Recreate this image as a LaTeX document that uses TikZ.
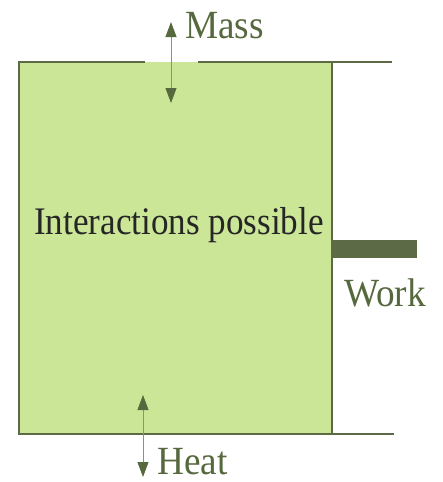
\documentclass[tikz,border=0pt]{standalone}
\usepackage{fontspec}
\setmainfont{Liberation Serif}
\usetikzlibrary{arrows.meta}
\definecolor{sysfill}{HTML}{CBE697}
\definecolor{wallcol}{HTML}{5C6B45}
\definecolor{labelcol}{HTML}{56683D}
\definecolor{flowline}{HTML}{8A9478}
\begin{document}
\begin{tikzpicture}[x=1pt,y=-1pt,
  wall/.style={draw=wallcol,line width=2pt},
  flow/.style={draw=flowline,line width=0.8pt,
    {Triangle[width=11pt,length=15pt,color=labelcol]}-{Triangle[width=11pt,length=15pt,color=labelcol]}},
  lbl/.style={text=labelcol,font=\fontsize{40}{44}\selectfont,xscale=0.93,inner sep=0pt},
  inner/.style={text=black!85,font=\fontsize{39}{44}\selectfont,xscale=0.9,inner sep=0pt}]
\useasboundingbox (0,0) rectangle (442,482);
% corners of the system
\coordinate (tl) at (19,62);
\coordinate (tr) at (332,62);
\coordinate (bl) at (19,434);
\coordinate (br) at (332,434);
% opening in the top wall
\coordinate (gapL) at (145,62);
\coordinate (gapR) at (198,62);
% wall extensions to the right
\coordinate (topEnd) at (392,62);
\coordinate (botEnd) at (394,434);
% system volume
\fill[sysfill] (tl) rectangle (br);
\draw[wall] (gapL) -- (tl) -- (bl) -- (br) -- (tr) -- (topEnd);
\draw[wall] (gapR) -- (tr);
\draw[wall] (br) -- (botEnd);
% work shaft
\fill[wallcol] (332,240) rectangle (417,258);
% mass transfer arrow
\coordinate (massTop) at (171,22);
\coordinate (massBot) at (171,103);
\draw[flow] (massTop) -- (massBot);
% heat transfer arrow
\coordinate (heatTop) at (143,395);
\coordinate (heatBot) at (143,477);
\draw[flow] (heatTop) -- (heatBot);
% labels
\node[lbl,anchor=base west] (mass) at (185,38) {Mass};
\node[lbl,anchor=base west] (heat) at (157,474) {Heat};
\node[lbl,anchor=base west] (work) at (344,306) {Work};
\node[inner,anchor=base] (inter) at (179,234) {Interactions possible};
\end{tikzpicture}
\end{document}
